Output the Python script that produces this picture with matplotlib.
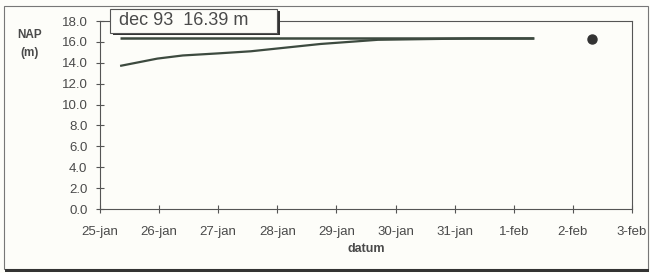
import matplotlib
matplotlib.use("Agg")
import matplotlib.pyplot as plt
from matplotlib.patches import Rectangle

plt.rcParams['font.family'] = ['Liberation Sans', 'DejaVu Sans']

# data (x in days after 25-jan)
tick_labels = ["25-jan", "26-jan", "27-jan", "28-jan", "29-jan", "30-jan",
               "31-jan", "1-feb", "2-feb", "3-feb"]
ref_x = [0.34, 7.34]
ref_y = [16.39, 16.39]
meas_x = [0.34, 0.97, 1.4, 2.0, 2.55, 3.73, 4.7, 6.3, 7.34]
meas_y = [13.7, 14.4, 14.7, 14.9, 15.1, 15.8, 16.2, 16.33, 16.33]
dot_x = [8.33]
dot_y = [16.3]
label_text = "dec 93  16.39 m"

line_col = "#3d4a3f"
text_col = "#4a4a4a"

fig = plt.figure(figsize=(6.5, 2.73), dpi=100)
fig.patch.set_facecolor("#fdfdf9")

# outer frame with shadow
fig.patches.append(Rectangle((4 / 650, 4 / 273), 644 / 650, 263 / 273, transform=fig.transFigure,
                             fill=False, edgecolor="#777777", lw=0.8))
fig.patches.append(Rectangle((5 / 650, 1 / 273), 644 / 650, 3 / 273, transform=fig.transFigure,
                             facecolor="#333333", edgecolor="none"))

ax = fig.add_axes([100 / 650, 1 - 209 / 273, 532 / 650, 188 / 273])
ax.set_facecolor("none")

ax.plot(ref_x, ref_y, color=line_col, lw=1.8, solid_capstyle="butt")
ax.plot(meas_x, meas_y, color=line_col, lw=1.6, solid_capstyle="butt")
ax.plot(dot_x, dot_y, "o", color="#333333", ms=6.5)

ax.set_xlim(0, 9)
ax.set_ylim(0, 18)
ax.set_xticks(range(len(tick_labels)))
ax.set_xticklabels(tick_labels)
ax.set_yticks([i * 2 for i in range(10)])
ax.set_yticklabels([f"{i * 2:.1f}" for i in range(10)])
ax.tick_params(direction="inout", length=6, width=0.8, colors="#555555",
               labelcolor=text_col, labelsize=9.5, pad=6)
ax.tick_params(axis="x", pad=9)
for s in ax.spines.values():
    s.set_color("#555555")
    s.set_linewidth(0.8)

ax.set_xlabel("datum", fontweight="bold", color=text_col, fontsize=9, labelpad=4)
fig.text(30 / 650, 1 - 44 / 273, "NAP\n(m)", ha="center", va="center", fontweight="bold",
         color=text_col, fontsize=8.5, linespacing=1.6)

# label box with shadow
fig.patches.append(Rectangle((113 / 650, 1 - 35 / 273), 167 / 650, 24 / 273, transform=fig.transFigure,
                             facecolor="#333333", edgecolor="none"))
fig.patches.append(Rectangle((110 / 650, 1 - 33 / 273), 167 / 650, 24 / 273, transform=fig.transFigure,
                             facecolor="#fdfdf9", edgecolor="#555555", lw=0.8))
fig.text(119 / 650, 1 - 20.5 / 273, label_text, ha="left", va="center", color=text_col, fontsize=13)

fig.savefig("out.png", dpi=100, facecolor=fig.get_facecolor())
